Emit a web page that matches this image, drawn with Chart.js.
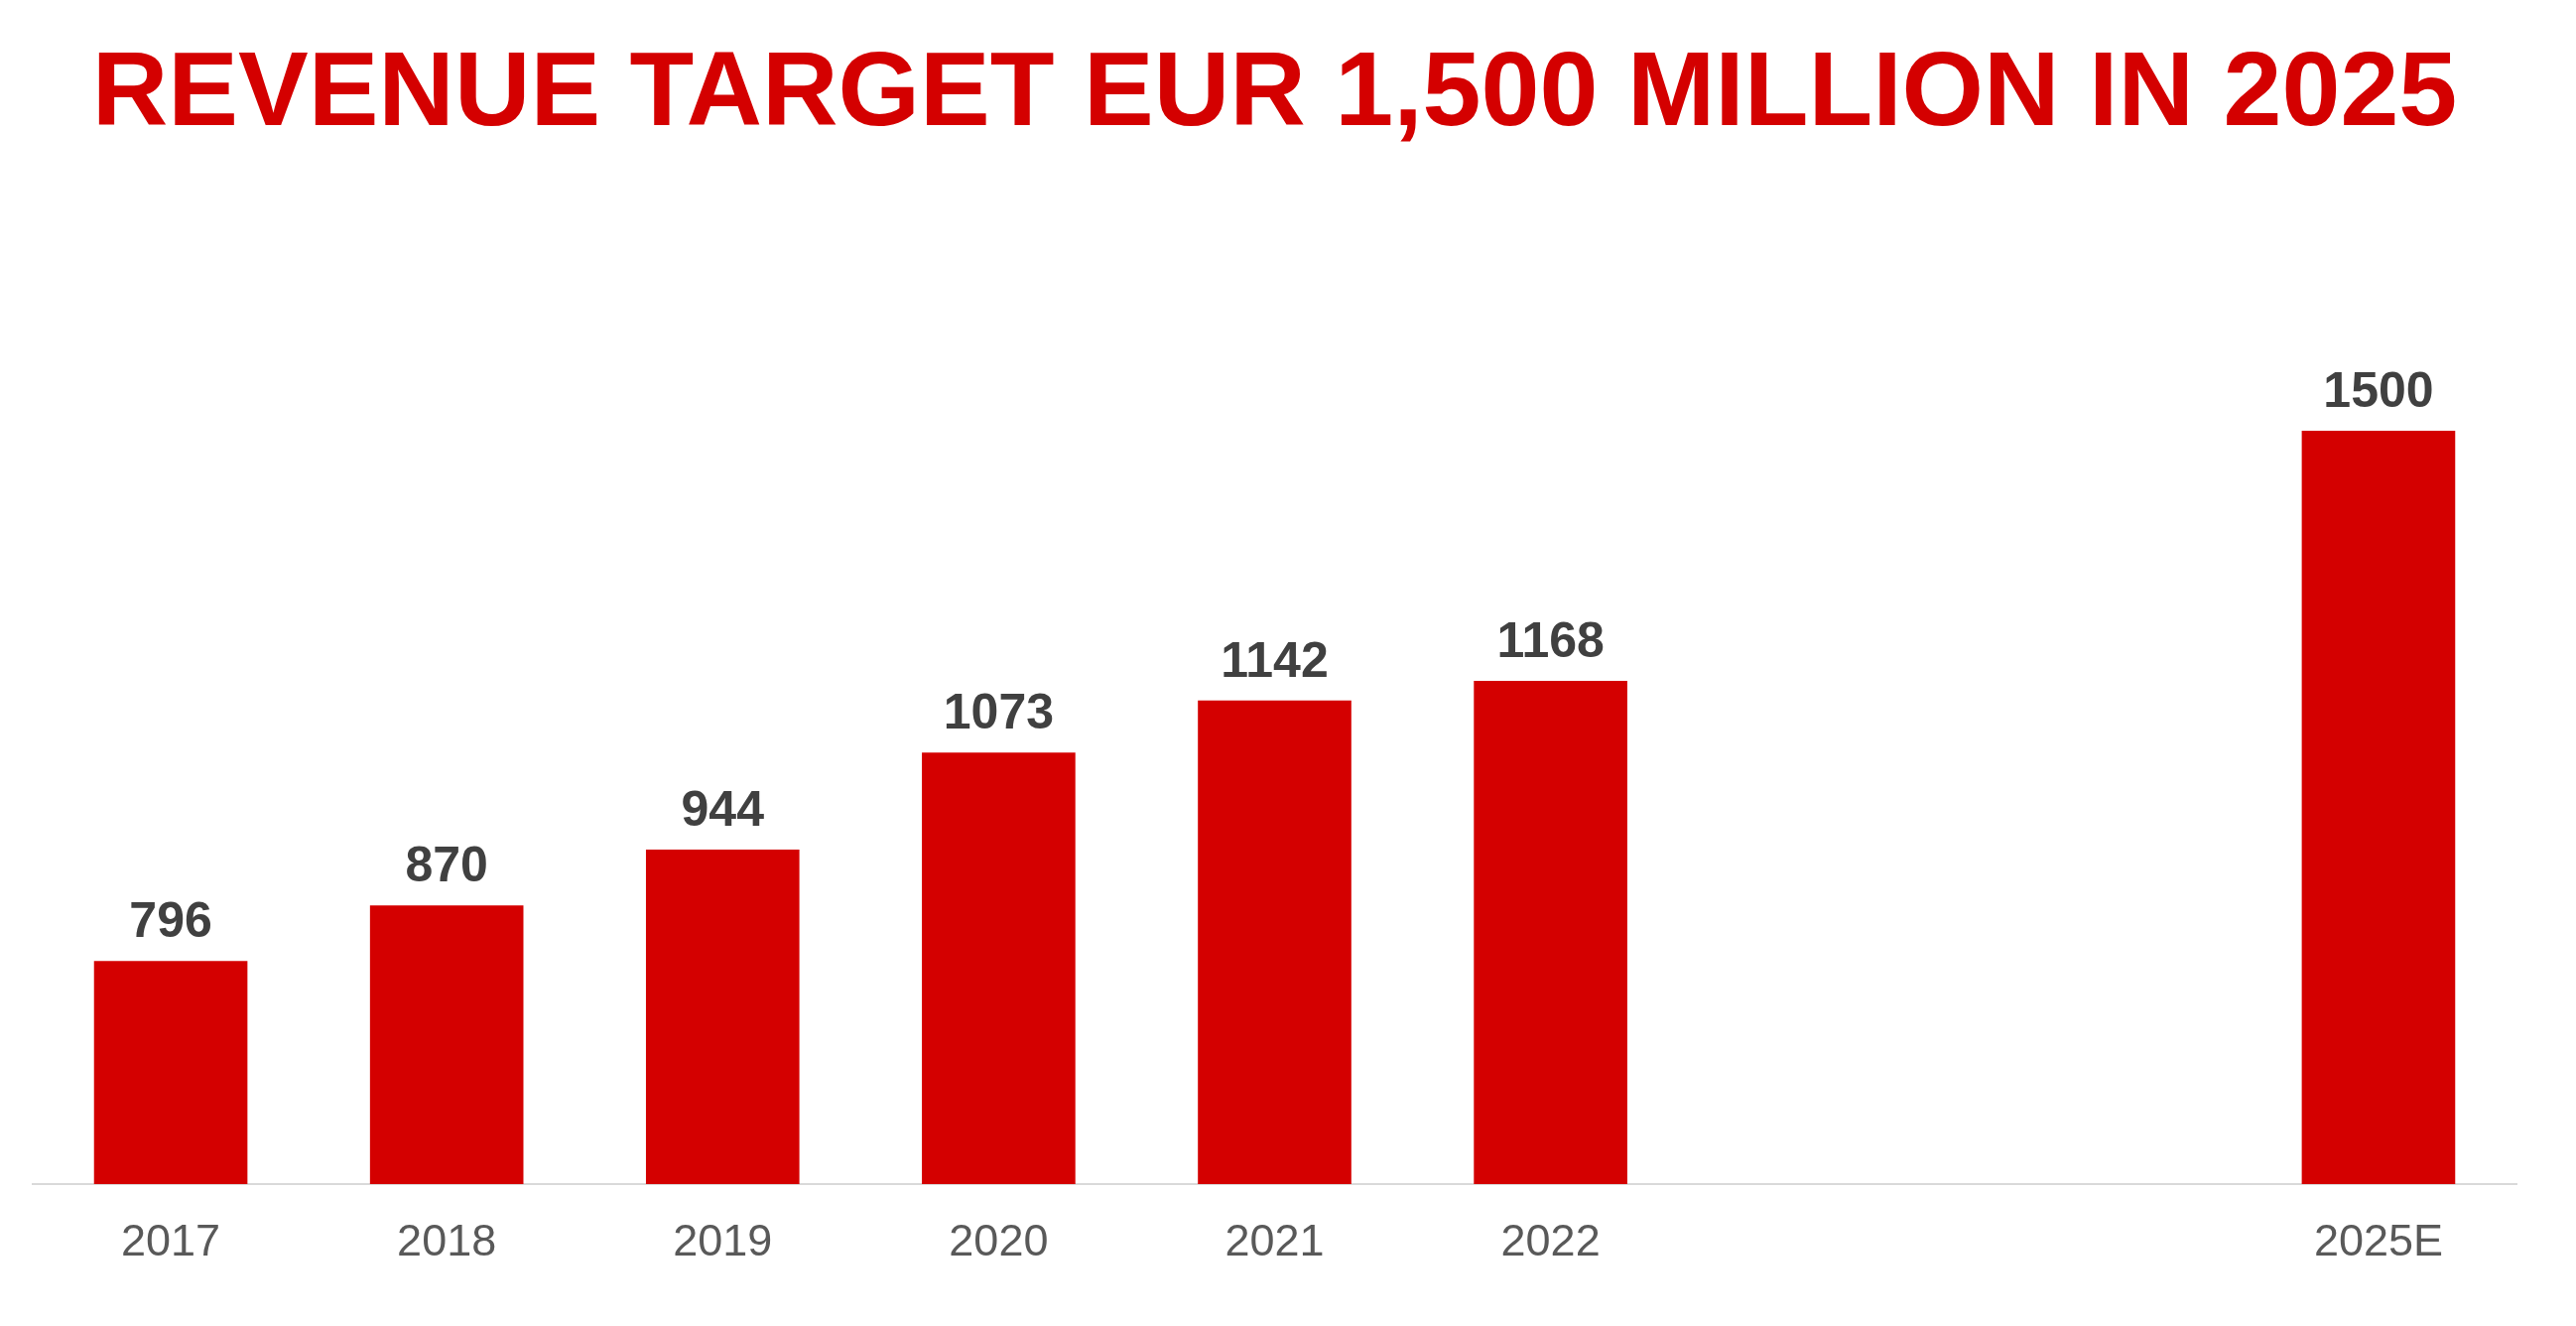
<!DOCTYPE html>
<html>
<head>
<meta charset="utf-8">
<title>Revenue target</title>
<script src="https://cdn.jsdelivr.net/npm/chart.js@4.4.1/dist/chart.umd.min.js"></script>
<style>
  html, body { margin: 0; padding: 0; background: #fff; }
  #canvas { display: block; }
</style>
</head>
<body>
<canvas id="canvas" width="2596" height="1336"></canvas>
<script>
// revenue, EUR million (2023 and 2024 left empty in the source chart)
const years = ['2017', '2018', '2019', '2020', '2021', '2022', '', '', '2025E'];
const revenue = [796, 870, 944, 1073, 1142, 1168, null, null, 1500];
const yMin = 500;
const yMax = 1600;

const red = '#d40000';

// draws the value above each bar, taken from the bar elements
const valueLabels = {
  id: 'valueLabels',
  afterDatasetsDraw(chart) {
    const ctx = chart.ctx;
    const meta = chart.getDatasetMeta(0);
    ctx.save();
    ctx.font = 'bold 50px "Liberation Sans", Arial, sans-serif';
    ctx.fillStyle = '#404040';
    ctx.textAlign = 'center';
    ctx.textBaseline = 'alphabetic';
    meta.data.forEach((bar, i) => {
      const v = revenue[i];
      if (v === null) return;
      ctx.fillText(String(v), bar.x, bar.y - 24);
    });
    ctx.restore();
  }
};

const ctx = document.getElementById('canvas');
const chart = new Chart(ctx, {
  type: 'bar',
  data: {
    labels: years,
    datasets: [{
      data: revenue,
      backgroundColor: red,
      borderWidth: 0,
      barPercentage: 0.556,
      categoryPercentage: 1
    }]
  },
  options: {
    responsive: false,
    animation: false,
    devicePixelRatio: 1,
    layout: {
      padding: { left: 33, right: 60, top: 0, bottom: 23 }
    },
    plugins: {
      legend: { display: false },
      tooltip: { enabled: false },
      title: {
        display: true,
        text: 'REVENUE TARGET EUR 1,500 MILLION IN 2025',
        color: red,
        font: { family: '"Liberation Sans", Arial, sans-serif', size: 106, weight: 'bold' },
        padding: { top: 33, bottom: 198 }
      }
    },
    scales: {
      x: {
        grid: { display: false, drawTicks: false },
        border: { display: true, color: '#d9d9d9', width: 2 },
        ticks: {
          color: '#595959',
          padding: 33,
          font: { family: '"Liberation Sans", Arial, sans-serif', size: 45 }
        }
      },
      y: {
        display: false,
        min: yMin,
        max: yMax
      }
    }
  },
  plugins: [valueLabels]
});
</script>
</body>
</html>
